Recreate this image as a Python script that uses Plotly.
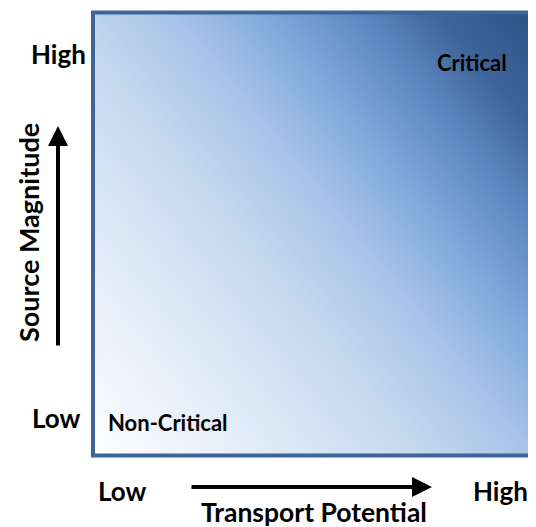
import numpy as np
import plotly.graph_objects as go

# Gradient direction weights (left->right, bottom->top)
grad_wx = 0.55
grad_wy = 0.45
grad_n = 41

grad_stops = [0.0, 0.2, 0.4, 0.55, 0.66, 0.78, 0.88, 1.0]
grad_colors = ["#ffffff", "#e4edf8", "#c6d9ef", "#a6c3e8", "#82aadc", "#5c88c2", "#3e6599", "#2c5286"]

axis_levels = ["Low", "High"]
x_title = "Transport Potential"
y_title = "Source Magnitude"
zone_labels = ["Non-Critical", "Critical"]

OFF = 8  # page body margin
W, H = 536 - OFF, 527 - OFF
x0p, x1p = 93, 534
y0p, y1p = 12.5, 455.5

def px(x):
    return (x - OFF) / W

def py(y):
    return 1 - (y - OFF) / H

gx = np.linspace(0, 1, grad_n)
gy = np.linspace(0, 1, grad_n)
GX, GY = np.meshgrid(gx, gy)
GZ = grad_wx * GX + grad_wy * GY

fig = go.Figure()
fig.add_trace(go.Heatmap(
    x=gx, y=gy, z=GZ,
    zsmooth="best", showscale=False, hoverinfo="skip",
    zmin=0, zmax=1,
    colorscale=[[s, c] for s, c in zip(grad_stops, grad_colors)],
))

fig.update_layout(
    width=W, height=H,
    margin=dict(l=0, r=0, t=0, b=0),
    paper_bgcolor="white", plot_bgcolor="white",
    xaxis=dict(domain=[px(x0p), px(x1p)], range=[0, 1], visible=False, fixedrange=True),
    yaxis=dict(domain=[py(y1p), py(y0p)], range=[0, 1], visible=False, fixedrange=True),
    showlegend=False,
)

# border
fig.add_shape(type="rect", xref="paper", yref="paper",
              x0=px(x0p), x1=px(x1p), y0=py(y1p), y1=py(y0p),
              line=dict(color="#3e6598", width=4), fillcolor="rgba(0,0,0,0)")

font = "Lato"

def txt(x, y, s, size=26, angle=0, xanchor="center"):
    fig.add_annotation(x=px(x), y=py(y), xref="paper", yref="paper", text="<b>%s</b>" % s,
                       showarrow=False, font=dict(family=font, size=size, color="black"),
                       textangle=angle, xanchor=xanchor, yanchor="middle", borderpad=0)

# y-axis level labels
txt(58, 54, axis_levels[1], size=26)
txt(56, 418, axis_levels[0], size=26)
# x-axis level labels
txt(122, 491, axis_levels[0], size=26)
txt(500, 491, axis_levels[1], size=26)
# titles
txt(314, 512, x_title, size=26.5)
txt(29, 233, y_title, size=27, angle=-90)
# zones
txt(107, 422, zone_labels[0], size=22, xanchor="left")
txt(472, 63, zone_labels[1], size=22)

# arrows
fig.add_annotation(x=px(432), y=py(487), ax=-242, ay=0,
                   xref="paper", yref="paper", axref="pixel", ayref="pixel",
                   text="", showarrow=True, arrowhead=2, arrowsize=1.0, arrowwidth=4, arrowcolor="black")
fig.add_annotation(x=px(58), y=py(126), ax=0, ay=221,
                   xref="paper", yref="paper", axref="pixel", ayref="pixel",
                   text="", showarrow=True, arrowhead=2, arrowsize=1.0, arrowwidth=4, arrowcolor="black")

fig.write_html("out.html")
